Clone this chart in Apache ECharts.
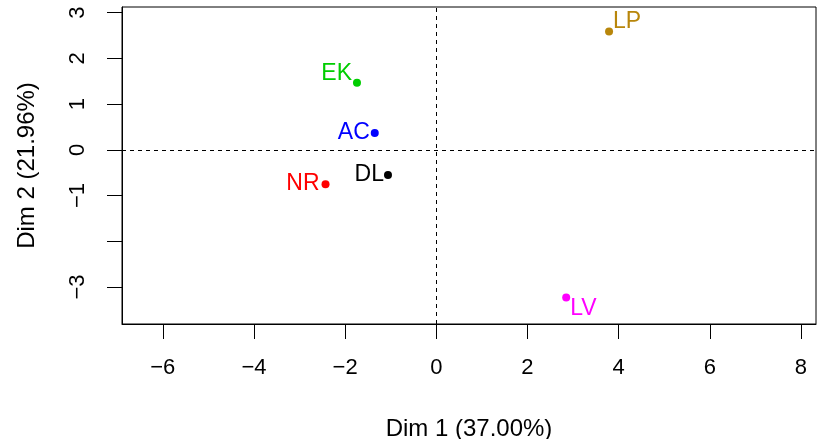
<!DOCTYPE html>
<html>
<head>
<meta charset="utf-8">
<script src="https://cdn.jsdelivr.net/npm/echarts@6/dist/echarts.min.js"></script>
<style>
  html, body { margin: 0; padding: 0; background: #fff; }
  #main { width: 817px; height: 439px; }
</style>
</head>
<body>
<div id="main"></div>
<script>
// individuals on the first two dimensions
var names = ['EK', 'AC', 'DL', 'NR', 'LP', 'LV'];
var dim1 = [-1.74, -1.35, -1.06, -2.43, 3.79, 2.85];
var dim2 = [1.47, 0.37, -0.55, -0.75, 2.59, -3.23];

var xTicks = [-6, -4, -2, 0, 2, 4, 6, 8];
var yTicks = [-3, -2, -1, 0, 1, 2, 3];
var yTickLabels = [-3, -1, 0, 1, 2, 3];

var pointColors = {
  EK: '#00CD00', AC: '#0000FF', DL: '#000000',
  NR: '#FF0000', LP: '#B8860B', LV: '#FF00FF'
};
// label placement around the point
var labelPlace = {
  EK: { position: 'left', distance: 1, offset: [0, -9] },
  AC: { position: 'left', distance: 1, offset: [0, 0] },
  DL: { position: 'left', distance: 0, offset: [0, 0] },
  NR: { position: 'left', distance: 2, offset: [0, 0] },
  LP: { position: 'right', distance: 0, offset: [0, -10] },
  LV: { position: 'right', distance: 0, offset: [0, 11] }
};

var font = 'Liberation Sans, Arial, sans-serif';
function minus(v) { return String(v).replace('-', '\u2212'); }

var points = names.map(function (n, i) {
  var p = labelPlace[n];
  return {
    name: n,
    value: [dim1[i], dim2[i]],
    itemStyle: { color: pointColors[n], opacity: 1 },
    label: {
      show: true,
      formatter: n,
      position: p.position,
      distance: p.distance,
      offset: p.offset,
      color: pointColors[n],
      fontSize: 23,
      fontFamily: font
    }
  };
});

var myChart = echarts.init(document.getElementById('main'));
var option = {
  backgroundColor: '#fff',
  animation: false,
  grid: {
    left: 122, right: 1, top: 7, bottom: 115,
    outerBoundsMode: 'none', containLabel: false,
    show: true, borderColor: '#000', borderWidth: 1
  },
  xAxis: {
    type: 'value',
    min: -6.895, max: 8.33,
    name: 'Dim 1 (37.00%)',
    nameLocation: 'middle',
    nameGap: 93,
    nameTextStyle: { color: '#000', fontSize: 24, fontFamily: font },
    axisLine: { show: true, onZero: false, lineStyle: { color: '#000', width: 1 } },
    axisTick: { show: true, length: 15, customValues: xTicks, lineStyle: { color: '#000' } },
    axisLabel: {
      customValues: xTicks, margin: 33, color: '#000', fontSize: 22, fontFamily: font,
      formatter: minus
    },
    splitLine: { show: false }
  },
  yAxis: {
    type: 'value',
    min: -3.81, max: 3.125,
    name: 'Dim 2 (21.96%)',
    nameLocation: 'middle',
    nameGap: 83,
    nameTextStyle: { color: '#000', fontSize: 24, fontFamily: font },
    axisLine: { show: true, onZero: false, lineStyle: { color: '#000', width: 1 } },
    axisTick: { show: true, length: 15, customValues: yTicks, lineStyle: { color: '#000' } },
    axisLabel: {
      customValues: yTickLabels, margin: 33, rotate: 90, color: '#000', fontSize: 22, fontFamily: font,
      formatter: minus
    },
    splitLine: { show: false }
  },
  series: [{
    type: 'scatter',
    symbolSize: 8,
    itemStyle: { opacity: 1 },
    data: points,
    markLine: {
      silent: true,
      symbol: 'none',
      label: { show: false },
      lineStyle: { color: '#000', type: [4, 4], width: 1 },
      data: [{ xAxis: 0 }, { yAxis: 0 }]
    }
  }]
};
myChart.setOption(option);
</script>
</body>
</html>
